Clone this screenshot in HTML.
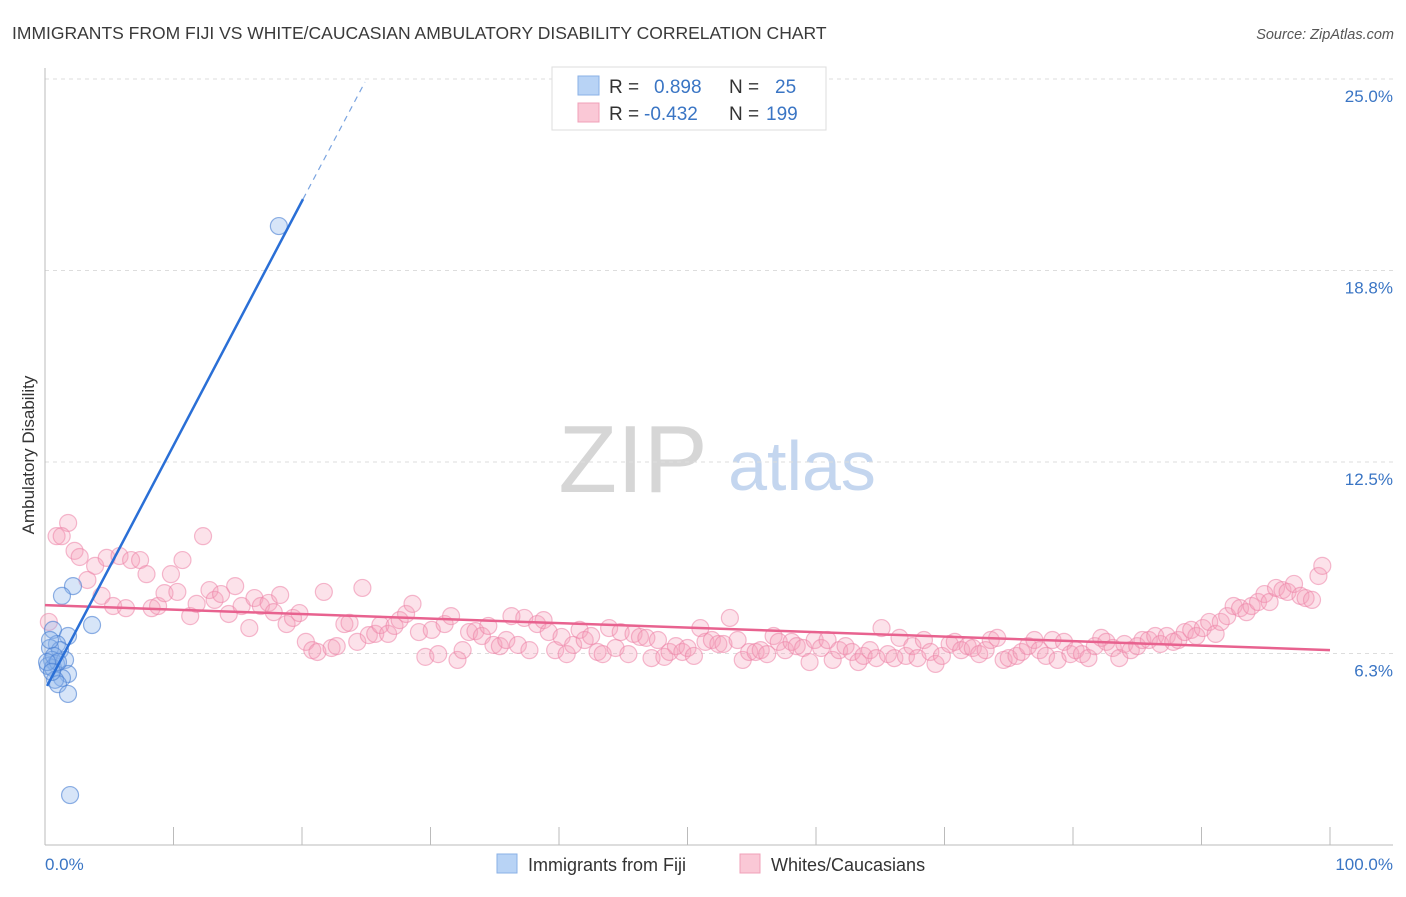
<!DOCTYPE html>
<html><head><meta charset="utf-8"><style>
body{margin:0;background:#fff;font-family:"Liberation Sans",sans-serif}
svg text{font-family:"Liberation Sans",sans-serif}
</style></head><body>
<svg width="1406" height="892" viewBox="0 0 1406 892">
<text x="12" y="39" font-size="17.5" fill="#3a3a3a">IMMIGRANTS FROM FIJI VS WHITE/CAUCASIAN AMBULATORY DISABILITY CORRELATION CHART</text>
<text x="1394" y="39" font-size="14.5" fill="#555" text-anchor="end" font-style="italic">Source: ZipAtlas.com</text>
<g>
<text x="633" y="492" font-size="96" fill="#d6d6d6" font-family="Liberation Serif" text-anchor="middle">ZIP</text>
<text x="802" y="490" font-size="70" fill="#c4d6ef" text-anchor="middle">atlas</text>
</g>
<g id="grid"></g>
<g id="axes"></g>
<text x="34" y="455" font-size="17" fill="#333" text-anchor="middle" transform="rotate(-90 34 455)">Ambulatory Disability</text>
<g id="pink"></g>
<g id="blue"></g>
<g id="lines"></g>
<g>
<rect x="552" y="67" width="274" height="63" fill="#fff" stroke="#ddd"/>
<rect x="578" y="76" width="21" height="19" fill="#b8d3f5" stroke="#8ab0e6"/>
<rect x="578" y="103" width="21" height="19" fill="#fac8d6" stroke="#f0a0b8"/>
<text x="609" y="93" font-size="19" fill="#333">R = </text><text x="654" y="93" font-size="19" fill="#3a75c4">0.898</text>
<text x="729" y="93" font-size="19" fill="#333">N = </text><text x="775" y="93" font-size="19" fill="#3a75c4">25</text>
<text x="609" y="120" font-size="19" fill="#333">R = </text><text x="644" y="120" font-size="19" fill="#3a75c4">-0.432</text>
<text x="729" y="120" font-size="19" fill="#333">N = </text><text x="766" y="120" font-size="19" fill="#3a75c4">199</text>
</g>
<g>
<rect x="497" y="854" width="20" height="19" fill="#b8d3f5" stroke="#8ab0e6"/>
<text x="528" y="871" font-size="18" fill="#333">Immigrants from Fiji</text>
<rect x="740" y="854" width="20" height="19" fill="#fac8d6" stroke="#f0a0b8"/>
<text x="771" y="871" font-size="18" fill="#333">Whites/Caucasians</text>
</g>
</svg>
<script>
const yTicks=[6.25,12.5,18.75,25];
const yTickLabels=["6.3%","12.5%","18.8%","25.0%"];
const xTickLabels=["0.0%","100.0%"];
const blueX=[18.2,2.18,1.32,3.66,0.62,1.79,0.93,0.39,1.17,0.54,0.86,0.23,0.62,1.56,1.79,1.32,0.78,1.01,1.79,1.95,0.39,0.70,1.01,0.16,0.54];
const blueY=[20.2,8.45,8.13,7.18,7.02,6.82,6.56,6.43,6.36,6.04,5.91,5.84,5.78,6.04,5.58,5.45,5.39,5.25,4.93,1.63,6.69,6.17,5.97,5.97,5.65];
const pinkX=[0.3,0.9,1.8,1.3,2.3,2.7,3.3,3.9,4.4,4.8,5.3,5.8,6.3,6.7,7.4,7.9,8.3,8.8,9.3,9.8,10.3,10.7,11.3,11.8,12.3,12.8,13.2,13.7,14.3,14.8,15.3,15.9,16.3,16.8,17.4,17.8,18.3,18.8,19.3,19.8,20.3,20.8,21.2,21.7,22.3,22.7,23.3,23.7,24.3,24.7,25.2,25.7,26.1,26.7,27.2,27.6,28.1,28.6,29.1,29.6,30.1,30.6,31.1,31.6,32.1,32.5,33.0,33.5,34.0,34.5,34.9,35.4,35.9,36.3,36.8,37.3,37.7,38.3,38.8,39.2,39.7,40.2,40.6,41.1,41.6,42.0,42.5,43.0,43.4,43.9,44.4,44.8,45.4,45.8,46.3,46.8,47.2,47.7,48.2,48.6,49.1,49.6,50.0,50.5,51.0,51.4,51.9,52.4,52.8,53.3,53.9,54.3,54.8,55.3,55.7,56.2,56.7,57.1,57.6,58.1,58.5,59.0,59.5,59.9,60.4,60.9,61.3,61.8,62.3,62.8,63.3,63.7,64.2,64.7,65.1,65.6,66.1,66.5,67.0,67.5,67.9,68.4,68.9,69.3,69.8,70.4,70.8,71.3,71.8,72.2,72.7,73.2,73.6,74.1,74.6,75.0,75.6,76.0,76.5,77.0,77.4,77.9,78.4,78.8,79.3,79.8,80.2,80.7,81.2,81.7,82.2,82.6,83.1,83.6,84.0,84.5,85.0,85.4,85.9,86.4,86.8,87.3,87.8,88.2,88.7,89.2,89.6,90.1,90.6,91.1,91.5,92.0,92.5,93.0,93.5,93.9,94.4,94.9,95.3,95.8,96.3,96.7,97.2,97.7,98.1,98.6,99.1,99.4];
const pinkY=[7.28,10.08,10.51,10.08,9.60,9.40,8.65,9.11,8.13,9.37,7.80,9.43,7.73,9.30,9.30,8.84,7.73,7.80,8.22,8.84,8.26,9.30,7.47,7.87,10.08,8.32,8.00,8.19,7.54,8.45,7.80,7.08,8.06,7.80,7.90,7.60,8.16,7.21,7.41,7.57,6.63,6.36,6.30,8.26,6.43,6.49,7.21,7.25,6.63,8.39,6.85,6.89,7.18,6.89,7.15,7.34,7.54,7.87,6.95,6.14,7.02,6.23,7.21,7.47,6.04,6.36,6.95,6.98,6.82,7.15,6.53,6.49,6.69,7.47,6.53,7.41,6.36,7.21,7.34,6.95,6.36,6.79,6.23,6.53,7.02,6.69,6.82,6.30,6.23,7.08,6.43,6.95,6.23,6.89,6.79,6.76,6.10,6.69,6.14,6.30,6.49,6.30,6.43,6.17,7.08,6.63,6.69,6.56,6.56,7.41,6.69,6.04,6.30,6.30,6.36,6.23,6.82,6.63,6.36,6.63,6.49,6.43,5.97,6.69,6.43,6.69,6.04,6.36,6.49,6.30,5.97,6.17,6.36,6.10,7.08,6.23,6.10,6.76,6.17,6.49,6.10,6.69,6.30,5.91,6.17,6.56,6.63,6.36,6.49,6.43,6.23,6.36,6.69,6.76,6.04,6.10,6.17,6.30,6.49,6.69,6.36,6.17,6.69,6.04,6.63,6.23,6.36,6.23,6.10,6.49,6.76,6.63,6.43,6.10,6.56,6.36,6.49,6.69,6.69,6.82,6.56,6.82,6.63,6.69,6.95,7.02,6.82,7.08,7.28,6.89,7.28,7.47,7.80,7.73,7.60,7.80,7.93,8.19,7.93,8.39,8.32,8.26,8.52,8.13,8.06,8.00,8.78,9.11];
const blueTrend=[[0.16,5.19],[20.08,21.08]];
const blueDash=[[20.08,21.08],[24.9,24.9]];
const pinkTrend=[[0,7.83],[100,6.36]];

const NS="http://www.w3.org/2000/svg";
const X0=45,X1=1330,Y0=845,PPY=30.64;
const sx=v=>X0+(X1-X0)*v/100;
const sy=v=>Y0-v*PPY;
function mk(tag,attrs,parent){const e=document.createElementNS(NS,tag);for(const k in attrs)e.setAttribute(k,attrs[k]);parent.appendChild(e);return e;}
const grid=document.getElementById('grid'),axes=document.getElementById('axes');
yTicks.forEach((t,i)=>{
  const l=mk('line',{x1:X0,x2:1393,y1:sy(t),y2:sy(t),stroke:'#ddd','stroke-dasharray':'4 4'},grid);
  
  
  const tx=mk('text',{x:1393,y:sy(t)+23,'font-size':17,fill:'#3a75c4','text-anchor':'end'},axes);
  tx.textContent=yTickLabels[i];
  
  
});
const ya=mk('line',{x1:X0,x2:X0,y1:68,y2:Y0,stroke:'#bbb'},axes);


const xa=mk('line',{x1:X0,x2:1393,y1:Y0,y2:Y0,stroke:'#bbb'},axes);


for(let i=0;i<=10;i++){
  const t=mk('line',{x1:sx(i*10),x2:sx(i*10),y1:Y0,y2:Y0-18,stroke:'#bbb'},axes);
  
  
}
[[0,'start',45],[100,'end',1393]].forEach((d,i)=>{
  const tx=mk('text',{x:d[2],y:870,'font-size':17,fill:'#3a75c4','text-anchor':d[1]},axes);
  tx.textContent=xTickLabels[i];
  
  
});
const pink=document.getElementById('pink');
pinkX.forEach((v,i)=>{
  const c=mk('circle',{cx:sx(v),cy:sy(pinkY[i]),r:8.5,fill:'rgba(246,160,186,0.3)',stroke:'rgba(236,130,165,0.55)','stroke-width':1.2},pink);
  
  
});
const blue=document.getElementById('blue');
blueX.forEach((v,i)=>{
  const c=mk('circle',{cx:sx(v),cy:sy(blueY[i]),r:8.5,fill:'rgba(140,180,235,0.35)',stroke:'rgba(70,125,210,0.6)','stroke-width':1.2},blue);
  
  
});
const lines=document.getElementById('lines');
const pl=mk('line',{x1:sx(pinkTrend[0][0]),y1:sy(pinkTrend[0][1]),x2:sx(pinkTrend[1][0]),y2:sy(pinkTrend[1][1]),stroke:'#e8628f','stroke-width':2.5},lines);


const bl=mk('line',{x1:sx(blueTrend[0][0]),y1:sy(blueTrend[0][1]),x2:sx(blueTrend[1][0]),y2:sy(blueTrend[1][1]),stroke:'#2a6fd6','stroke-width':2.5},lines);


const bd=mk('line',{x1:sx(blueDash[0][0]),y1:sy(blueDash[0][1]),x2:sx(blueDash[1][0]),y2:sy(blueDash[1][1]),stroke:'#7aa4e0','stroke-width':1.2,'stroke-dasharray':'6 5'},lines);


</script>
</body></html>
